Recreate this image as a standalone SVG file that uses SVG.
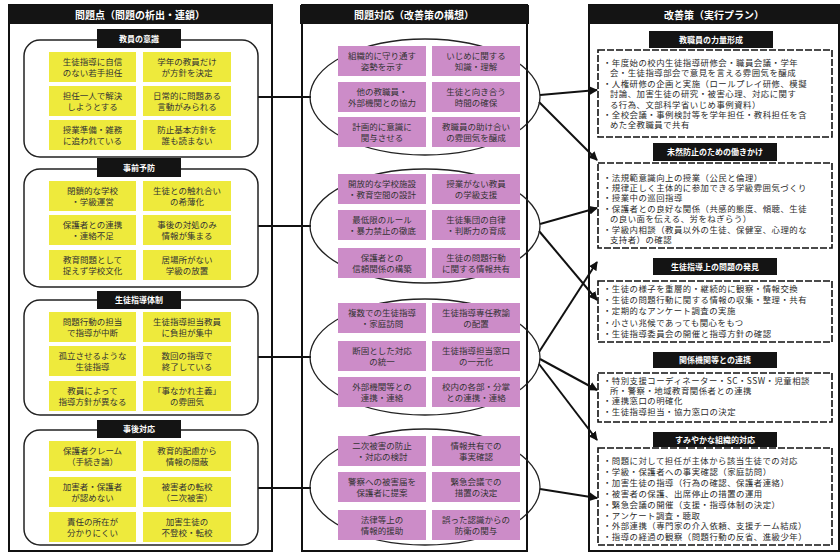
<svg xmlns="http://www.w3.org/2000/svg" width="840" height="555" viewBox="0 0 840 555">
<style>
text{font-family:"Noto Sans CJK JP","Noto Sans",sans-serif;}
.frame{fill:#fff;stroke:#111;stroke-width:2}
.bar{fill:#141414}
.ttl{fill:#fff;font-size:10px;font-weight:bold;text-anchor:middle}
.lbl{fill:#fff;font-size:8px;font-weight:bold;text-anchor:middle}
.sec{fill:none;stroke:#222;stroke-width:1.5}
.ell{fill:none;stroke:#222;stroke-width:1.3}
.y{fill:#EEEA3C}
.p{fill:#CC8CC8}
.ct{fill:#333;font-size:8.5px;text-anchor:middle}
.dash{fill:#fff;stroke:#111;stroke-width:1.6;stroke-dasharray:7 2}
.bt{fill:#2a2a2a;font-size:8.4px;letter-spacing:0.5px}
.ln{stroke:#111;stroke-width:2;fill:none}
.ar{stroke:#111;stroke-width:2;fill:none;marker-end:url(#ah)}
</style>
<defs>
<marker id="ah" markerWidth="9" markerHeight="9" refX="8" refY="4.5" orient="auto" markerUnits="userSpaceOnUse">
<path d="M0,0 L9,4.5 L0,9 Z" fill="#111"/>
</marker>
</defs>
<rect width="840" height="555" fill="#fff"/>

<g id="col-left">
<rect class="frame" x="9" y="5" width="263" height="546"/>
<rect class="bar" x="9" y="5" width="263" height="19"/>
<text class="ttl" x="140" y="18.5">問題点（問題の析出・連鎖）</text>
</g>
<g id="col-mid">
<rect class="frame" x="302" y="5" width="225" height="546"/>
<rect class="bar" x="300" y="5" width="229" height="19"/>
<text class="ttl" x="414" y="18.5">問題対応（改善策の構想）</text>
</g>
<g id="col-right">
<rect class="frame" x="589" y="5" width="250" height="546"/>
<rect class="bar" x="589" y="5" width="251" height="19"/>
<text class="ttl" x="714" y="18.5">改善策（実行プラン）</text>
</g>

<g id="connectors">
<line class="ln" x1="258" y1="97" x2="311" y2="97"/>
<line class="ln" x1="258" y1="226" x2="311" y2="226"/>
<line class="ln" x1="258" y1="357" x2="311" y2="357"/>
<line class="ln" x1="258" y1="488" x2="311" y2="488"/>
<line class="ar" x1="540" y1="95" x2="597" y2="90"/>
<line class="ar" x1="539" y1="102" x2="597" y2="160"/>
<line class="ar" x1="540" y1="224" x2="597" y2="208"/>
<line class="ar" x1="539" y1="231" x2="597" y2="300"/>
<line class="ar" x1="539" y1="352" x2="597" y2="262"/>
<line class="ar" x1="540" y1="359" x2="597" y2="390"/>
<line class="ar" x1="539" y1="364" x2="597" y2="440"/>
<line class="ar" x1="540" y1="489" x2="597" y2="498"/>
</g>

<g id="sec1">
<rect class="sec" x="24" y="40" width="234" height="117" rx="16"/>
<rect class="bar" x="97" y="29" width="84" height="19"/>
<text class="lbl" x="139" y="41.5">教員の意識</text>
<rect class="y" x="49" y="52" width="87" height="30"/><text class="ct" x="92.5" y="65"><tspan x="92.5">生徒指導に自信</tspan><tspan x="92.5" dy="11">のない若手担任</tspan></text>
<rect class="y" x="143" y="52" width="88" height="30"/><text class="ct" x="187" y="65"><tspan x="187">学年の教員だけ</tspan><tspan x="187" dy="11">が方針を決定</tspan></text>
<rect class="y" x="49" y="86" width="87" height="30"/><text class="ct" x="92.5" y="99"><tspan x="92.5">担任一人で解決</tspan><tspan x="92.5" dy="11">しようとする</tspan></text>
<rect class="y" x="143" y="86" width="88" height="30"/><text class="ct" x="187" y="99"><tspan x="187">日常的に問題ある</tspan><tspan x="187" dy="11">言動がみられる</tspan></text>
<rect class="y" x="49" y="120" width="87" height="30"/><text class="ct" x="92.5" y="133"><tspan x="92.5">授業準備・雑務</tspan><tspan x="92.5" dy="11">に追われている</tspan></text>
<rect class="y" x="143" y="120" width="88" height="30"/><text class="ct" x="187" y="133"><tspan x="187">防止基本方針を</tspan><tspan x="187" dy="11">誰も読まない</tspan></text>
</g>
<g id="sec2">
<rect class="sec" x="24" y="169" width="234" height="118" rx="16"/>
<rect class="bar" x="97" y="158" width="84" height="19"/>
<text class="lbl" x="139" y="170.5">事前予防</text>
<rect class="y" x="49" y="181" width="87" height="30"/><text class="ct" x="92.5" y="194"><tspan x="92.5">閉鎖的な学校</tspan><tspan x="92.5" dy="11">・学級運営</tspan></text>
<rect class="y" x="143" y="181" width="88" height="30"/><text class="ct" x="187" y="194"><tspan x="187">生徒との触れ合い</tspan><tspan x="187" dy="11">の希薄化</tspan></text>
<rect class="y" x="49" y="215" width="87" height="30"/><text class="ct" x="92.5" y="228"><tspan x="92.5">保護者との連携</tspan><tspan x="92.5" dy="11">・連絡不足</tspan></text>
<rect class="y" x="143" y="215" width="88" height="30"/><text class="ct" x="187" y="228"><tspan x="187">事後の対処のみ</tspan><tspan x="187" dy="11">情報が集まる</tspan></text>
<rect class="y" x="49" y="250" width="87" height="30"/><text class="ct" x="92.5" y="263"><tspan x="92.5">教育問題として</tspan><tspan x="92.5" dy="11">捉えず学校文化</tspan></text>
<rect class="y" x="143" y="250" width="88" height="30"/><text class="ct" x="187" y="263"><tspan x="187">居場所がない</tspan><tspan x="187" dy="11">学級の放置</tspan></text>
</g>
<g id="sec3">
<rect class="sec" x="24" y="300" width="234" height="115" rx="16"/>
<rect class="bar" x="97" y="291" width="84" height="18"/>
<text class="lbl" x="139" y="303">生徒指導体制</text>
<rect class="y" x="49" y="312" width="87" height="30"/><text class="ct" x="92.5" y="325"><tspan x="92.5">問題行動の担当</tspan><tspan x="92.5" dy="11">で指導が中断</tspan></text>
<rect class="y" x="143" y="312" width="88" height="30"/><text class="ct" x="187" y="325"><tspan x="187">生徒指導担当教員</tspan><tspan x="187" dy="11">に負担が集中</tspan></text>
<rect class="y" x="49" y="346" width="87" height="30"/><text class="ct" x="92.5" y="359"><tspan x="92.5">孤立させるような</tspan><tspan x="92.5" dy="11">生徒指導</tspan></text>
<rect class="y" x="143" y="346" width="88" height="30"/><text class="ct" x="187" y="359"><tspan x="187">数回の指導で</tspan><tspan x="187" dy="11">終了している</tspan></text>
<rect class="y" x="49" y="381" width="87" height="30"/><text class="ct" x="92.5" y="394"><tspan x="92.5">教員によって</tspan><tspan x="92.5" dy="11">指導方針が異なる</tspan></text>
<rect class="y" x="143" y="381" width="88" height="30"/><text class="ct" x="187" y="394"><tspan x="187">「事なかれ主義」</tspan><tspan x="187" dy="11">の雰囲気</tspan></text>
</g>
<g id="sec4">
<rect class="sec" x="24" y="430" width="234" height="115" rx="16"/>
<rect class="bar" x="97" y="420" width="84" height="18"/>
<text class="lbl" x="139" y="432">事後対応</text>
<rect class="y" x="49" y="441" width="87" height="30"/><text class="ct" x="92.5" y="454"><tspan x="92.5">保護者クレーム</tspan><tspan x="92.5" dy="11">（手続き論）</tspan></text>
<rect class="y" x="143" y="441" width="88" height="30"/><text class="ct" x="187" y="454"><tspan x="187">教育的配慮から</tspan><tspan x="187" dy="11">情報の隠蔽</tspan></text>
<rect class="y" x="49" y="477" width="87" height="30"/><text class="ct" x="92.5" y="490"><tspan x="92.5">加害者・保護者</tspan><tspan x="92.5" dy="11">が認めない</tspan></text>
<rect class="y" x="143" y="477" width="88" height="30"/><text class="ct" x="187" y="490"><tspan x="187">被害者の転校</tspan><tspan x="187" dy="11">（二次被害）</tspan></text>
<rect class="y" x="49" y="512" width="87" height="30"/><text class="ct" x="92.5" y="525"><tspan x="92.5">責任の所在が</tspan><tspan x="92.5" dy="11">分かりにくい</tspan></text>
<rect class="y" x="143" y="512" width="88" height="30"/><text class="ct" x="187" y="525"><tspan x="187">加害生徒の</tspan><tspan x="187" dy="11">不登校・転校</tspan></text>
</g>

<g id="grp1">
<ellipse class="ell" cx="425" cy="97" rx="115" ry="58"/>
<rect class="p" x="338" y="46" width="88" height="30"/><text class="ct" x="382" y="59"><tspan x="382">組織的に守り通す</tspan><tspan x="382" dy="11">姿勢を示す</tspan></text>
<rect class="p" x="432" y="46" width="88" height="30"/><text class="ct" x="476" y="59"><tspan x="476">いじめに関する</tspan><tspan x="476" dy="11">知識・理解</tspan></text>
<rect class="p" x="338" y="82" width="88" height="30"/><text class="ct" x="382" y="95"><tspan x="382">他の教職員・</tspan><tspan x="382" dy="11">外部機関との協力</tspan></text>
<rect class="p" x="432" y="82" width="88" height="30"/><text class="ct" x="476" y="95"><tspan x="476">生徒と向き合う</tspan><tspan x="476" dy="11">時間の確保</tspan></text>
<rect class="p" x="338" y="117" width="88" height="30"/><text class="ct" x="382" y="130"><tspan x="382">計画的に意識に</tspan><tspan x="382" dy="11">関与させる</tspan></text>
<rect class="p" x="432" y="117" width="88" height="30"/><text class="ct" x="476" y="130"><tspan x="476">教職員の助け合い</tspan><tspan x="476" dy="11">の雰囲気を醸成</tspan></text>
</g>
<g id="grp2">
<ellipse class="ell" cx="425" cy="226" rx="115" ry="57"/>
<rect class="p" x="338" y="174" width="88" height="30"/><text class="ct" x="382" y="187"><tspan x="382">開放的な学校施設</tspan><tspan x="382" dy="11">・教育空間の設計</tspan></text>
<rect class="p" x="432" y="174" width="88" height="30"/><text class="ct" x="476" y="187"><tspan x="476">授業がない教員</tspan><tspan x="476" dy="11">の学級支援</tspan></text>
<rect class="p" x="338" y="210" width="88" height="30"/><text class="ct" x="382" y="223"><tspan x="382">最低限のルール</tspan><tspan x="382" dy="11">・暴力禁止の徹底</tspan></text>
<rect class="p" x="432" y="210" width="88" height="30"/><text class="ct" x="476" y="223"><tspan x="476">生徒集団の自律</tspan><tspan x="476" dy="11">・判断力の育成</tspan></text>
<rect class="p" x="338" y="248" width="88" height="30"/><text class="ct" x="382" y="261"><tspan x="382">保護者との</tspan><tspan x="382" dy="11">信頼関係の構築</tspan></text>
<rect class="p" x="432" y="248" width="88" height="30"/><text class="ct" x="476" y="261"><tspan x="476">生徒の問題行動</tspan><tspan x="476" dy="11">に関する情報共有</tspan></text>
</g>
<g id="grp3">
<ellipse class="ell" cx="425" cy="357" rx="115" ry="58"/>
<rect class="p" x="338" y="303" width="88" height="30"/><text class="ct" x="382" y="316"><tspan x="382">複数での生徒指導</tspan><tspan x="382" dy="11">・家庭訪問</tspan></text>
<rect class="p" x="432" y="303" width="88" height="30"/><text class="ct" x="476" y="316"><tspan x="476">生徒指導専任教諭</tspan><tspan x="476" dy="11">の配置</tspan></text>
<rect class="p" x="338" y="341" width="88" height="30"/><text class="ct" x="382" y="354"><tspan x="382">断固とした対応</tspan><tspan x="382" dy="11">の統一</tspan></text>
<rect class="p" x="432" y="341" width="88" height="30"/><text class="ct" x="476" y="354"><tspan x="476">生徒指導担当窓口</tspan><tspan x="476" dy="11">の一元化</tspan></text>
<rect class="p" x="338" y="377" width="88" height="30"/><text class="ct" x="382" y="390"><tspan x="382">外部機関等との</tspan><tspan x="382" dy="11">連携・連絡</tspan></text>
<rect class="p" x="432" y="377" width="88" height="30"/><text class="ct" x="476" y="390"><tspan x="476">校内の各部・分掌</tspan><tspan x="476" dy="11">との連携・連絡</tspan></text>
</g>
<g id="grp4">
<ellipse class="ell" cx="425" cy="487" rx="115" ry="58"/>
<rect class="p" x="338" y="436" width="88" height="30"/><text class="ct" x="382" y="449"><tspan x="382">二次被害の防止</tspan><tspan x="382" dy="11">・対応の検討</tspan></text>
<rect class="p" x="432" y="436" width="88" height="30"/><text class="ct" x="476" y="449"><tspan x="476">情報共有での</tspan><tspan x="476" dy="11">事実確認</tspan></text>
<rect class="p" x="338" y="472" width="88" height="30"/><text class="ct" x="382" y="485"><tspan x="382">警察への被害届を</tspan><tspan x="382" dy="11">保護者に提案</tspan></text>
<rect class="p" x="432" y="472" width="88" height="30"/><text class="ct" x="476" y="485"><tspan x="476">緊急会議での</tspan><tspan x="476" dy="11">措置の決定</tspan></text>
<rect class="p" x="338" y="510" width="88" height="30"/><text class="ct" x="382" y="523"><tspan x="382">法律等上の</tspan><tspan x="382" dy="11">情報的援助</tspan></text>
<rect class="p" x="432" y="510" width="88" height="30"/><text class="ct" x="476" y="523"><tspan x="476">誤った認識からの</tspan><tspan x="476" dy="11">防衛の関与</tspan></text>
</g>

<g id="plan1">
<rect class="dash" x="598" y="50" width="234" height="87"/>
<rect class="bar" x="649" y="31" width="124" height="17"/>
<text class="lbl" x="711" y="42.5">教職員の力量形成</text>
<text class="bt" x="603" y="66"><tspan x="603">・年度始の校内生徒指導研修会・職員会議・学年</tspan><tspan x="610" dy="10.4">会・生徒指導部会で意見を言える雰囲気を醸成</tspan><tspan x="603" dy="10.4">・人権研修の企画と実施（ロールプレイ研修、模擬</tspan><tspan x="610" dy="10.4">討論、加害生徒の研究・被害心理、対応に関す</tspan><tspan x="610" dy="10.4">る行為、文部科学省いじめ事例資料）</tspan><tspan x="603" dy="10.4">・全校会議・事例検討等を学年担任・教科担任を含</tspan><tspan x="610" dy="10.4">めた全教職員で共有</tspan></text>
</g>
<g id="plan2">
<rect class="dash" x="598" y="163" width="234" height="85"/>
<rect class="bar" x="653" y="143" width="124" height="18"/>
<text class="lbl" x="715" y="155">未然防止のための働きかけ</text>
<text class="bt" x="603" y="180.5"><tspan x="603">・法規範意識向上の授業（公民と倫理）</tspan><tspan x="603" dy="10.4">・規律正しく主体的に参加できる学級雰囲気づくり</tspan><tspan x="603" dy="10.4">・授業中の巡回指導</tspan><tspan x="603" dy="10.4">・保護者との良好な関係（共感的態度、傾聴、生徒</tspan><tspan x="610" dy="10.4">の良い面を伝える、労をねぎらう）</tspan><tspan x="603" dy="10.4">・学級内相談（教員以外の生徒、保健室、心理的な</tspan><tspan x="610" dy="10.4">支持者）の確認</tspan></text>
</g>
<g id="plan3">
<rect class="dash" x="598" y="281" width="234" height="61"/>
<rect class="bar" x="653" y="258" width="124" height="17"/>
<text class="lbl" x="715" y="269.5">生徒指導上の問題の発見</text>
<text class="bt" x="603" y="291.5"><tspan x="603">・生徒の様子を重層的・継続的に観察・情報交換</tspan><tspan x="603" dy="11.4">・生徒の問題行動に関する情報の収集・整理・共有</tspan><tspan x="603" dy="11.4">・定期的なアンケート調査の実施</tspan><tspan x="603" dy="11.4">・小さい兆候であっても関心をもつ</tspan><tspan x="603" dy="11.4">・生徒指導委員会の開催と指導方針の確認</tspan></text>
</g>
<g id="plan4">
<rect class="dash" x="598" y="373" width="234" height="49"/>
<rect class="bar" x="653" y="352" width="124" height="16"/>
<text class="lbl" x="715" y="363">関係機関等との連携</text>
<text class="bt" x="603" y="383.5"><tspan x="603">・特別支援コーディネーター・SC・SSW・児童相談</tspan><tspan x="610" dy="10.4">所・警察・地域教育関係者との連携</tspan><tspan x="603" dy="10.4">・連携窓口の明確化</tspan><tspan x="603" dy="10.6">・生徒指導担当・協力窓口の決定</tspan></text>
</g>
<g id="plan5">
<rect class="dash" x="598" y="448" width="234" height="97"/>
<rect class="bar" x="653" y="432" width="124" height="15"/>
<text class="lbl" x="715" y="442.5">すみやかな組織的対応</text>
<text class="bt" x="603" y="464"><tspan x="603">・問題に対して担任が主体から該当生徒での対応</tspan><tspan x="603" dy="10.9">・学級・保護者への事実確認（家庭訪問）</tspan><tspan x="603" dy="10.9">・加害生徒の指導（行為の確認、保護者連絡）</tspan><tspan x="603" dy="10.9">・被害者の保護、出席停止の措置の運用</tspan><tspan x="603" dy="10.9">・緊急会議の開催（支援・指導体制の決定）</tspan><tspan x="603" dy="10.9">・アンケート調査・聴取</tspan><tspan x="603" dy="10.9">・外部連携（専門家の介入依頼、支援チーム結成）</tspan><tspan x="603" dy="10.9">・指導の経過の観察（問題行動の反省、進級少年）</tspan></text>
</g>
</svg>
